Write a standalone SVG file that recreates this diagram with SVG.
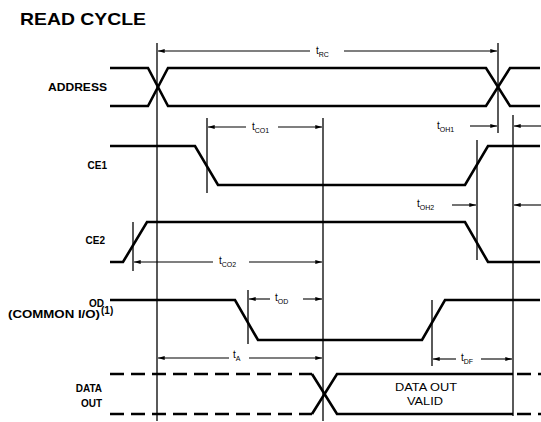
<svg xmlns="http://www.w3.org/2000/svg" width="541" height="422" viewBox="0 0 541 422">
<style>
.sig{fill:none;stroke:#000;stroke-width:2.6;stroke-linejoin:miter}
.dash{fill:none;stroke:#000;stroke-width:2.6;stroke-dasharray:14 7}
.vl{stroke:#000;stroke-width:1.3}
.dim{stroke:#000;stroke-width:1.1;fill:none}
.lbl{font-family:"Liberation Sans",Arial,sans-serif;font-weight:bold;font-size:10px;fill:#000}
.tl{font-family:"Liberation Sans",Arial,sans-serif;font-size:10px;fill:#000}
.ts{font-size:7px}
.title{font-family:"Liberation Sans",Arial,sans-serif;font-weight:bold;font-size:17px;fill:#000}
</style>
<defs>
<marker id="ah" viewBox="0 0 10 6" refX="10" refY="3" markerWidth="7" markerHeight="4" markerUnits="userSpaceOnUse" orient="auto-start-reverse">
<path d="M0,0 L10,3 L0,6 Z" fill="#000"/>
</marker>
</defs>
<rect width="541" height="422" fill="#fff"/>
<text class="title" x="20" y="25" textLength="126" lengthAdjust="spacingAndGlyphs">READ CYCLE</text>

<g id="labels">
<text class="lbl" x="107" y="91" text-anchor="end" textLength="59" lengthAdjust="spacingAndGlyphs">ADDRESS</text>
<text class="lbl" x="107" y="169" text-anchor="end">CE1</text>
<text class="lbl" x="105" y="244" text-anchor="end">CE2</text>
<text class="lbl" x="104" y="307" text-anchor="end" font-size="9">OD</text>
<text class="lbl" x="8" y="318" font-size="8.5" textLength="92" lengthAdjust="spacingAndGlyphs">(COMMON I/O)</text>
<text class="lbl" x="101" y="314" font-size="6.5">(1)</text>
<text class="lbl" x="102" y="392" text-anchor="end">DATA</text>
<text class="lbl" x="102" y="407" text-anchor="end">OUT</text>
</g>

<g id="verticals">
<line class="vl" x1="157" y1="43" x2="157" y2="421" stroke-width="2"/>
<line class="vl" x1="323" y1="118" x2="323" y2="421" stroke-width="1.6"/>
<line class="vl" x1="498" y1="43" x2="498" y2="133"/>
<line class="vl" x1="513" y1="115" x2="513" y2="416"/>
<line class="vl" x1="207" y1="118" x2="207" y2="193"/>
<line class="vl" x1="477" y1="140" x2="477" y2="260"/>
<line class="vl" x1="133" y1="222" x2="133" y2="271"/>
<line class="vl" x1="248" y1="290" x2="248" y2="344"/>
<line class="vl" x1="432" y1="300" x2="432" y2="366"/>
</g>

<g id="address">
<polyline class="sig" points="110,68 148,68 168,106 486,106 510,68 540,68"/>
<polyline class="sig" points="110,106 148,106 168,68 486,68 510,106 540,106"/>
</g>
<g id="ce1">
<polyline class="sig" points="110,146 195,146 218,185 465,185 488,146 540,146"/>
</g>
<g id="ce2">
<polyline class="sig" points="110,262 123,262 147,222 465,222 488,262 540,262"/>
</g>
<g id="od">
<polyline class="sig" points="110,300 235,300 258,340 422,340 445,300 540,300"/>
</g>
<g id="dataout">
<line class="dash" x1="110" y1="374" x2="312" y2="374"/>
<line class="dash" x1="110" y1="414" x2="312" y2="414"/>
<polyline class="sig" points="312,374 337,414 513,414"/>
<polyline class="sig" points="312,414 337,374 513,374"/>
<line class="dash" x1="517" y1="374" x2="541" y2="374" stroke-dasharray="8 6"/>
<line class="dash" x1="517" y1="414" x2="541" y2="414" stroke-dasharray="8 6"/>
<text class="tl" x="426" y="391" text-anchor="middle" textLength="62" lengthAdjust="spacingAndGlyphs">DATA OUT</text>
<text class="tl" x="425" y="405" text-anchor="middle" textLength="36" lengthAdjust="spacingAndGlyphs">VALID</text>
</g>

<g id="connectors">
<!-- tRC -->
<line class="dim" x1="158" y1="51" x2="310" y2="51" marker-start="url(#ah)"/>
<line class="dim" x1="344" y1="51" x2="497" y2="51" marker-end="url(#ah)"/>
<!-- tCO1 -->
<line class="dim" x1="208" y1="127" x2="246" y2="127" marker-start="url(#ah)"/>
<line class="dim" x1="278" y1="127" x2="322" y2="127" marker-end="url(#ah)"/>
<!-- tOH1 -->
<line class="dim" x1="470" y1="126" x2="497" y2="126" marker-end="url(#ah)"/>
<line class="dim" x1="514" y1="126" x2="541" y2="126" marker-start="url(#ah)"/>
<!-- tOH2 -->
<line class="dim" x1="452" y1="205" x2="476" y2="205" marker-end="url(#ah)"/>
<line class="dim" x1="514" y1="205" x2="541" y2="205" marker-start="url(#ah)"/>
<!-- tCO2 -->
<line class="dim" x1="134" y1="262" x2="213" y2="262" marker-start="url(#ah)"/>
<line class="dim" x1="249" y1="262" x2="322" y2="262" marker-end="url(#ah)"/>
<!-- tOD -->
<line class="dim" x1="249" y1="299" x2="270" y2="299" marker-start="url(#ah)"/>
<line class="dim" x1="303" y1="299" x2="322" y2="299" marker-end="url(#ah)"/>
<!-- tA -->
<line class="dim" x1="158" y1="358" x2="229" y2="358" marker-start="url(#ah)"/>
<line class="dim" x1="249" y1="358" x2="322" y2="358" marker-end="url(#ah)"/>
<!-- tDF -->
<line class="dim" x1="433" y1="359" x2="456" y2="359" marker-start="url(#ah)"/>
<line class="dim" x1="481" y1="359" x2="512" y2="359" marker-end="url(#ah)"/>
</g>

<g id="timing-labels">
<text class="tl" x="316" y="54" font-size="9">t<tspan class="ts" dy="3">RC</tspan></text>
<text class="tl" x="252" y="130" font-size="9">t<tspan class="ts" dy="3">CO1</tspan></text>
<text class="tl" x="437" y="129" font-size="9">t<tspan class="ts" dy="3">OH1</tspan></text>
<text class="tl" x="417" y="207" font-size="9">t<tspan class="ts" dy="3">OH2</tspan></text>
<text class="tl" x="219" y="264" font-size="9">t<tspan class="ts" dy="3">CO2</tspan></text>
<text class="tl" x="275" y="301" font-size="9">t<tspan class="ts" dy="3">OD</tspan></text>
<text class="tl" x="233" y="358" font-size="9">t<tspan class="ts" dy="3">A</tspan></text>
<text class="tl" x="461" y="361" font-size="9">t<tspan class="ts" dy="3">DF</tspan></text>
</g>
</svg>
